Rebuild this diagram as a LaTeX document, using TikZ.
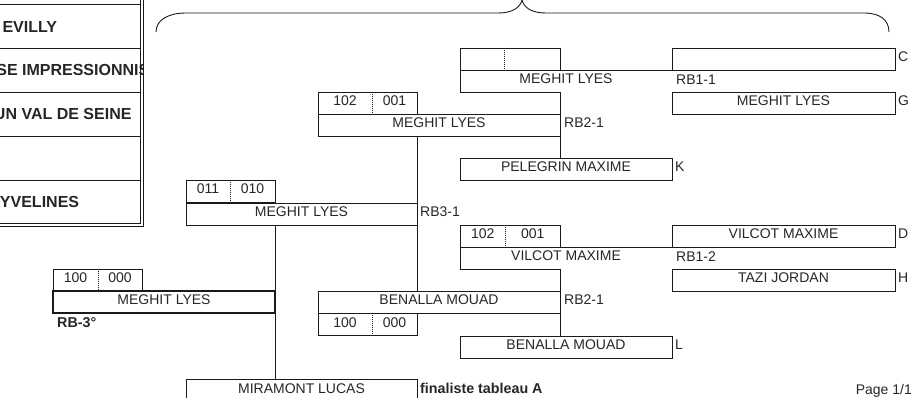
\documentclass[tikz,border=0pt]{standalone}
\usepackage{fontspec}
\setmainfont{Liberation Sans}
\definecolor{txt}{HTML}{262626}
\definecolor{lnc}{HTML}{1A1A1A}
\begin{document}
\begin{tikzpicture}[x=1pt,y=-1pt,
  reg/.style={font=\fontsize{14}{16}\selectfont, text=txt},
  bld/.style={font=\fontsize{14.3}{16}\selectfont\bfseries, text=txt},
  clubtxt/.style={font=\fontsize{16}{18}\selectfont\bfseries, text=txt, inner sep=0pt},
  ln/.style={draw=lnc, line width=0.9pt},
  thickln/.style={draw=lnc, line width=2pt},
  dotln/.style={draw=lnc, line width=0.6pt, dash pattern=on 1pt off 1pt},
  cell/.style={reg, anchor=north west, inner sep=0pt, outer sep=0pt, minimum height=22pt, text height=10pt, text depth=4pt},
  boxed/.style={cell, ln},
  lbl/.style={reg, anchor=west, inner sep=0pt, text height=10pt, text depth=4pt},
  celltxt/.style={reg, inner sep=0pt, text height=10pt, text depth=4pt}]
\useasboundingbox (0,0) rectangle (922,398);

% ---------- left club panel ----------
\begin{scope}
  \clip (0,0) rectangle (142,224);
  \node[clubtxt, anchor=east] (club1) at (57.3,26.5) {EVILLY};
  \node[clubtxt, anchor=east] (club2) at (149.5,70.3) {SE IMPRESSIONNIS};
  \node[clubtxt, anchor=east] (club3) at (131.7,114.3) {UN VAL DE SEINE};
  \node[clubtxt, anchor=east] (club5) at (79.3,202.3) {YVELINES};
\end{scope}
\foreach \yy in {4.7,48.3,92.3,136.3,180.3} \draw[ln] (0,\yy) -- (140.7,\yy);
\draw[ln] (140.7,0) -- (140.7,223.3) -- (0,223.3);
\draw[ln] (143.3,0) -- (143.3,226) -- (0,226);

% ---------- brace ----------
\draw[ln] (156,32) .. controls (156,20) and (168,13) .. (186,13) -- (498,13)
  .. controls (512,13) and (520,8) .. (522,0)
  .. controls (524,8) and (532,13) .. (546,13) -- (864,13)
  .. controls (880,13) and (889,20) .. (889,32);

% ---------- round 1 (right column) ----------
\node[boxed, minimum width=223pt] (C) at (672,48) {};
\node[boxed, minimum width=223pt] (G) at (672,92) {MEGHIT LYES};
\node[boxed, minimum width=223pt] (D) at (672,225) {VILCOT MAXIME};
\node[boxed, minimum width=223pt] (H) at (672,269) {TAZI JORDAN};
\node[lbl] (Cl) at ([xshift=3pt]C.east) {C};
\node[lbl] (Gl) at ([xshift=3pt]G.east) {G};
\node[lbl] (Dl) at ([xshift=3pt]D.east) {D};
\node[lbl] (Hl) at ([xshift=3pt]H.east) {H};

% ---------- round 2 column (x 460-672) ----------
\node[boxed, minimum width=100pt] (S11) at (460,48) {};
\draw[dotln] ([xshift=44.5pt]S11.north west) -- ([xshift=44.5pt]S11.south west);
\node[cell, minimum width=212pt] (W11) at (460,70) {MEGHIT LYES};
\draw[ln] (S11.east |- W11.south) -- (W11.south west) -- (W11.north west) -- (W11.north east);
\node[lbl] (rb11) at (676,81.5) {RB1-1};

\node[boxed, minimum width=212pt] (K) at (460,158) {PELEGRIN MAXIME};
\node[lbl] (Kl) at ([xshift=3pt]K.east) {K};

\node[boxed, minimum width=100pt] (S12) at (460,225) {};
\draw[dotln] ([xshift=45.5pt]S12.north west) -- ([xshift=45.5pt]S12.south west);
\node[celltxt] (S12a) at ([xshift=22.75pt]S12.west) {102};
\node[celltxt] (S12b) at ([xshift=-27.25pt]S12.east) {001};
\node[cell, minimum width=212pt] (W12) at (460,247) {VILCOT MAXIME};
\draw[ln] (S12.east |- W12.south) -- (W12.south west) -- (W12.north west) -- (W12.north east);
\node[lbl] (rb12) at (676,258.5) {RB1-2};

\node[boxed, minimum width=212pt] (L) at (460,336) {BENALLA MOUAD};
\node[lbl] (Ll) at ([xshift=3pt]L.east) {L};

% ---------- round 3 column (x 318-560) ----------
\node[boxed, minimum width=99pt] (S21) at (318,92) {};
\draw[dotln] ([xshift=54pt]S21.north west) -- ([xshift=54pt]S21.south west);
\node[celltxt] (S21a) at ([xshift=27pt]S21.west) {102};
\node[celltxt] (S21b) at ([xshift=-22.5pt]S21.east) {001};
\node[boxed, minimum width=242pt] (W21) at (318,114) {MEGHIT LYES};
\node[lbl] (rb21) at ([xshift=4pt]W21.east) {RB2-1};

\node[boxed, minimum width=242pt] (W22) at (318,291) {BENALLA MOUAD};
\node[boxed, minimum width=99pt] (S22) at (318,313) {};
\draw[dotln] ([xshift=54pt]S22.north west) -- ([xshift=54pt]S22.south west);
\node[celltxt] (S22a) at ([xshift=27pt]S22.west) {100};
\node[celltxt] (S22b) at ([xshift=-22.5pt]S22.east) {000};
\node[lbl] (rb22) at ([xshift=4pt]W22.east) {RB2-1};

% connectors round 2
\draw[ln] (S11.east |- W11.south) -- (S11.east |- K.north);
\draw[ln] (S12.east |- W12.south) -- (S12.east |- L.north);

% ---------- round 4 column (x 186-417) ----------
\node[boxed, minimum width=89pt] (S3) at (186,180) {};
\draw[dotln] ([xshift=44pt]S3.north west) -- ([xshift=44pt]S3.south west);
\node[celltxt] (S3a) at ([xshift=22pt]S3.west) {011};
\node[celltxt] (S3b) at ([xshift=-22.5pt]S3.east) {010};
\node[boxed, minimum width=231pt] (W3) at (186,203) {MEGHIT LYES};
\node[lbl] (rb3) at ([xshift=3pt]W3.east) {RB3-1};
\draw[ln] (S21.east |- W21.south) -- (S21.east |- W22.north);

% ---------- final ----------
\node[boxed, minimum width=89pt] (S4) at (53,269) {};
\draw[dotln] ([xshift=45pt]S4.north west) -- ([xshift=45pt]S4.south west);
\node[celltxt] (S4a) at ([xshift=22.5pt]S4.west) {100};
\node[celltxt] (S4b) at ([xshift=-22pt]S4.east) {000};
\node[cell, thickln, minimum width=222pt] (W4) at (53,291) {MEGHIT LYES};
\node[bld, anchor=west, inner sep=0pt, text height=10pt, text depth=4pt] (rb4) at (57,325) {RB-3°};

\node[cell, minimum width=231pt] (M) at (186,379) {MIRAMONT LUCAS};
\draw[ln] (M.south west) -- (M.north west) -- (M.north east) -- (M.south east);
\draw[ln] (S3.east |- W3.south) -- (S3.east |- M.north);
\node[bld, anchor=west, inner sep=0pt, text height=10pt, text depth=4pt] (fin) at ([xshift=3pt,yshift=-11pt]M.north east) {finaliste tableau A};

\node[reg, anchor=east, inner sep=0pt, text height=10pt, text depth=4pt] (page) at (912,391) {Page 1/1};
\end{tikzpicture}
\end{document}
